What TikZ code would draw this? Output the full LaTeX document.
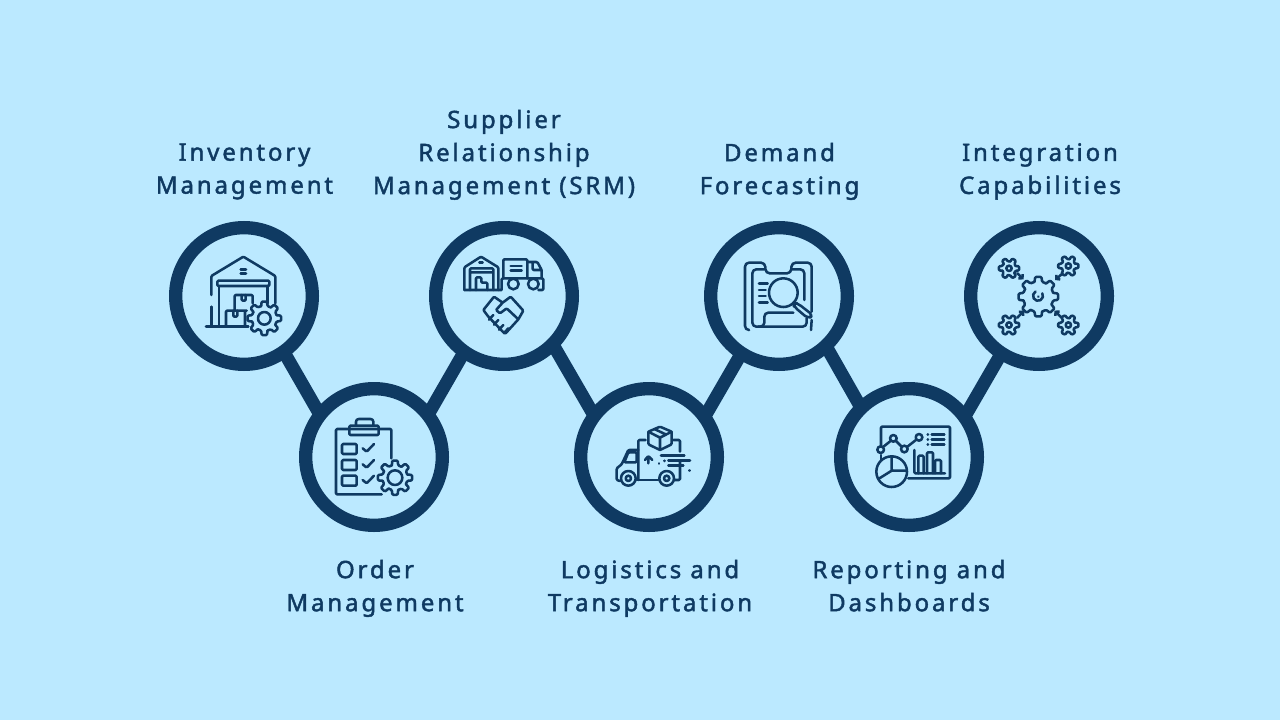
\documentclass[tikz,border=0pt]{standalone}
\usepackage{fontspec}
\setmainfont{Noto Sans}[LetterSpace=12,FakeBold=1.8]
\usetikzlibrary{arrows.meta}
\definecolor{skyback}{HTML}{BBE9FF}
\definecolor{navyring}{HTML}{0F3A62}
\tikzset{
  ring/.style={circle, draw=navyring, line width=10pt, minimum size=102.5pt, inner sep=0pt},
  link/.style={draw=navyring, line width=9.75pt, shorten >=-3pt, shorten <=-3pt},
  caption/.style={text=navyring, font=\fontsize{18}{24.75}\selectfont, align=center, inner sep=0pt,
    execute at begin node=\strut, execute at end node=\strut},
  icon/.style={draw=navyring, line width=1.9pt, line join=round, line cap=round, rounded corners=0.8pt},
  pics/cog/.style n args={4}{code={
    % one tooth and one gap per step
    \pgfmathsetmacro{\stepang}{360/#4}
    \foreach \k in {1,...,#4}{
      \pgfmathsetmacro{\ang}{\k*\stepang}
      \draw[icon] ({\ang-0.32*\stepang}:#1) -- ({\ang-0.2*\stepang}:#2) -- ({\ang+0.2*\stepang}:#2)
        -- ({\ang+0.32*\stepang}:#1) -- ({\ang+0.68*\stepang}:#1);
    }
    \draw[icon] (0,0) circle (#3);
  }}
}
\begin{document}
\begin{tikzpicture}[x=0.75pt, y=-0.75pt]
  \fill[skyback] (0,0) rectangle (1280,720);
  \useasboundingbox (0,0) rectangle (1280,720);

  % rings
  \foreach \name/\x/\y in {
    inventory/244/296, orders/374/457, supplier/504/296, logistics/649/457,
    demand/779/296, reporting/909/457, integration/1039/296
  }{
    \node[ring] (\name) at (\x,\y) {};
  }
  % links between rings
  \foreach \from/\to/\p/\q in {
    inventory/orders/-55/140, supplier/orders/-125.5/40, supplier/logistics/-46/141,
    demand/logistics/-123.5/38.5, demand/reporting/-48.4/133, integration/reporting/-123/38.6
  }{
    \draw[link] (\from.\p) -- (\to.\q);
  }

  % captions
  \node[caption] (capinventory) at (244.5,173.5) {Inventory\\Management};
  \node[caption] (caporders) at (375,590.5) {Order\\Management};
  \node[caption] (capsupplier) at (504,156.9) {Supplier\\Relationship\\Management (SRM)};
  \node[caption] (caplogistics) at (650,590.5) {Logistics and\\Transportation};
  \node[caption] (capdemand) at (779.5,173.5) {Demand\\Forecasting};
  \node[caption] (capreporting) at (909,590.5) {Reporting and\\Dashboards};
  \node[caption] (capintegration) at (1040,173.5) {Integration\\Capabilities};

  % warehouse with cog
  \begin{scope}[shift={(190,240)}, scale=1/3]
    \draw[icon] (64,165) -- (64,108) -- (160,50) -- (256,108) -- (256,190);
    \draw[icon] (64,200) -- (64,258);
    \draw[icon] (82,122) rectangle (238,138);
    \draw[icon] (87,138) -- (87,258) (233,138) -- (233,190);
    \draw[icon] (48,260) -- (175,260);
    \draw[icon] (152,88) -- (168,88) (152,100) -- (168,100);
    \draw[icon] (134,212) -- (134,165) -- (188,165) -- (188,190);
    \draw[icon] (155,165) -- (155,182) -- (167,182) -- (167,165);
    \draw[icon] (108,258) -- (108,212) -- (170,212) (165,212) -- (165,258);
    \draw[icon] (130,212) -- (130,230) -- (142,230) -- (142,212);
    \pic[transform shape] at (223,235) {cog={38}{51}{19}{8}};
  \end{scope}

  % clipboard with cog
  \begin{scope}[shift={(320,405)}, scale=1/3]
    \draw[icon] (214,160) -- (214,72) -- (48,72) -- (48,268) -- (185,268);
    \draw[icon] (88,62) rectangle (176,90);
    \draw[icon, rounded corners=2pt] (108,62) -- (108,42) -- (160,42) -- (160,62);
    \foreach \y in {117,165,212}{
      \draw[icon] (66,\y) rectangle (110,\y+30);
      \draw[icon] (128,\y+13) -- (140,\y+23) -- (162,\y);
    }
    \pic[transform shape] at (225,218) {cog={38}{52}{22}{8}};
  \end{scope}

  % warehouse, truck and handshake
  \begin{scope}[shift={(450,240)}, scale=1/3]
    \draw[icon] (43,150) -- (43,82) -- (93,50) -- (145,82) -- (145,150);
    \draw[icon] (43,150) -- (155,150) (265,150) -- (280,150) -- (280,115) -- (155,115) -- (155,148);
    \draw[icon] (60,150) -- (60,85) -- (130,85) -- (130,150) (60,97) -- (130,97);
    \draw[icon] (88,68) -- (98,68);
    \draw[icon] (78,150) -- (78,112) -- (94,112) -- (94,128) -- (112,128) -- (112,150);
    \draw[icon] (160,115) -- (160,58) -- (232,58) -- (232,115);
    \draw[icon] (182,78) -- (215,78) (182,92) -- (215,92);
    \draw[icon] (232,66) -- (262,66) -- (275,90) -- (275,115) (248,66) -- (248,90) -- (275,90);
    \draw[icon, fill=skyback] (190,132) circle (16) (250,132) circle (16);
    % handshake
    \draw[icon] (100,210) -- (132,170) -- (158,188) -- (182,170) -- (220,212) -- (205,238) -- (165,282) -- (115,230) -- cycle;
    \draw[icon] (158,188) -- (138,210) -- (150,220) -- (170,205) -- (205,238);
    \foreach \x/\y in {130/225, 145/240, 160/255, 175/265}{
      \draw[icon] (\x,\y) -- (\x-13,\y+14);
    }
  \end{scope}

  % delivery van with parcel
  \begin{scope}[shift={(595,405)}, scale=1/3]
    \draw[icon] (160,80) -- (195,65) -- (230,80) -- (230,118) -- (195,135) -- (160,118) -- cycle;
    \draw[icon] (160,80) -- (195,98) -- (230,80) (195,98) -- (195,135) (178,72) -- (212,88);
    \draw[icon] (130,225) -- (130,105) -- (152,105) (235,105) -- (255,105) -- (255,140) (255,170) -- (255,225) -- (240,225);
    \draw[icon] (130,135) -- (100,135) -- (80,178) -- (65,190) -- (65,225) -- (75,228);
    \draw[icon] (100,142) -- (125,142) -- (125,172) -- (88,172) -- cycle;
    \draw[icon] (125,225) -- (190,225);
    \foreach \x in {100,215}{
      \draw[icon, fill=skyback] (\x,220) circle (22);
      \draw[icon] (\x,220) circle (8);
    }
    \draw[icon] (160,175) -- (160,155) (150,165) -- (160,153) -- (172,165);
    \draw[icon] (198,152) -- (268,152) (220,167) -- (285,167) (220,182) -- (265,182);
    \draw[icon] (192,175) -- (192,176) (208,167) -- (208,168) (284,196) -- (284,197);
  \end{scope}

  % report under magnifier
  \begin{scope}[shift={(725,240)}, scale=1/3]
    \draw[icon, rounded corners=3pt] (72,270) -- (60,270) -- (60,68) -- (120,68) -- (122,100) -- (198,100) -- (200,68) -- (260,68) -- (260,215);
    \draw[icon] (260,240) -- (258,270);
    \draw[icon, rounded corners=3pt] (118,88) -- (82,88) -- (82,260) -- (245,260) -- (245,235);
    \draw[icon, rounded corners=3pt] (200,88) -- (238,88) -- (238,180);
    \draw[icon, rounded corners=3pt] (205,218) -- (118,218) -- (118,260) -- (100,260);
    \draw[icon] (175,158) circle (43);
    \draw[icon, rounded corners=3pt] (205,188) -- (218,190) -- (264,226) -- (250,236) -- (207,200) -- cycle;
    \foreach \y/\w in {130/128, 150/122, 168/122, 187/128}{
      \draw[icon] (102,\y) -- (\w,\y);
    }
  \end{scope}

  % dashboard with charts
  \begin{scope}[shift={(855,405)}, scale=1/3]
    \draw[icon] (78,125) -- (78,65) -- (285,65) -- (285,220) -- (160,220);
    \draw[icon] (78,150) -- (78,165);
    \draw[icon] (84,126) -- (108,107) (122,107) -- (140,125) (156,126) -- (184,104);
    \foreach \x/\y in {77/134, 115/100, 148/132, 192/97}{
      \draw[icon] (\x,\y) circle (10);
    }
    \foreach \y in {88,103,118}{
      \draw[icon] (218,\y) -- (219,\y) (230,\y) -- (268,\y);
    }
    \draw[icon] (178,135) -- (178,205) -- (270,205);
    \draw[icon] (190,205) -- (190,152) -- (206,152) -- (206,205);
    \draw[icon] (216,205) -- (216,142) -- (234,142) -- (234,205);
    \draw[icon] (240,205) -- (240,165) -- (258,165) -- (258,205);
    \draw[icon] (110,200) circle (46);
    \draw[icon] (110,155) -- (110,197) -- (155,197) (110,197) -- (70,222);
  \end{scope}

  % central cog with four small cogs
  \begin{scope}[shift={(985,240)}, scale=1/3]
    \pic[transform shape] at (160,170) {cog={46}{60}{0.1}{8}};
    \draw[icon] (172,160) arc (-30:240:15);
    \foreach \x/\y in {72/85, 250/78, 72/255, 250/255}{
      \pic[transform shape] at (\x,\y) {cog={21}{31}{8}{6}};
    }
    \draw[icon, -{Straight Barb[length=2pt,width=4.5pt]}] (97,100) -- (116,118);
    \draw[icon, -{Straight Barb[length=2pt,width=4.5pt]}] (233,100) -- (210,120);
    \draw[icon, -{Straight Barb[length=2pt,width=4.5pt]}] (97,233) -- (117,212);
    \draw[icon, -{Straight Barb[length=2pt,width=4.5pt]}] (230,233) -- (208,212);
  \end{scope}
\end{tikzpicture}
\end{document}
